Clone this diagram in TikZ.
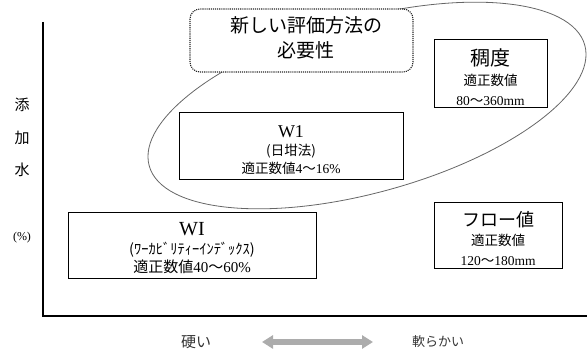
\documentclass[tikz,border=0pt]{standalone}
\usepackage{fontspec}
\setmainfont{Liberation Serif}
\newfontfamily\cjk{Noto Sans CJK JP}
\usetikzlibrary{arrows.meta}
\newcommand\fsz[1]{\fontsize{#1}{#1}\selectfont}
\begin{document}
\begin{tikzpicture}[x=1pt,y=-1pt,
  box/.style={draw=black, line width=0.9pt, fill=white, inner sep=0pt},
  txt/.style={align=center, inner sep=0pt},
  axis/.style={line width=1.8pt, black},
  lbl/.style={inner sep=0pt, font=\cjk},
]
\useasboundingbox (0,0) rectangle (587,352);
% axes
\coordinate (ytop) at (43,22);
\coordinate (o) at (43,316);
\coordinate (xend) at (587,316);
\draw[axis] (ytop) -- (o) -- (xend);
% ellipse
\draw[black!60, line width=0.8pt, rotate around={15.5:(367,105.5)}] (367,105.5) ellipse [x radius=226, y radius=87];
% rounded box
\node[draw=black!85, densely dotted, line width=1.1pt, rounded corners=10pt, fill=white,
      minimum width=223pt, minimum height=63pt, inner sep=0pt] (need) at (301.5,40.5) {};
\node[txt, font=\cjk\fontsize{19}{25}\selectfont] (needt) at (306,37.5) {新しい評価方法の\\必要性};
% W1 box
\node[box, minimum width=224pt, minimum height=67pt] (w1) at (291,145.5) {};
\node[txt, font=\fontsize{13.5}{18}\selectfont] (w1t) at (291,150) {{\fontsize{18}{18}\selectfont W1}\\{\cjk (日坩法)}\\{\cjk 適正数値}4{\cjk 〜}16\%};
% consistency box
\node[box, minimum width=113pt, minimum height=68pt] (cons) at (490.5,73) {};
\node[txt, font=\fontsize{13.5}{20}\selectfont] (const) at (490.5,77.5) {{\cjk\fontsize{20}{20}\selectfont 稠度}\\{\cjk 適正数値}\\80{\cjk 〜}360mm};
% WI box
\node[box, minimum width=248pt, minimum height=66pt] (wi) at (192,245) {};
\node[txt, font=\fontsize{15}{18.5}\selectfont] (wit) at (192,248.5) {{\fontsize{20}{19}\selectfont WI}\\{\cjk\fontsize{14.5}{14.5}\selectfont (ﾜｰｶﾋﾞﾘﾃｨｰｲﾝﾃﾞｯｸｽ)}\\{\cjk 適正数値}40{\cjk 〜}60\%};
% flow box
\node[box, minimum width=128pt, minimum height=66pt] (flow) at (498,235) {};
\node[txt, font=\fontsize{13.5}{19.5}\selectfont] (flowt) at (498,238.5) {{\cjk\fontsize{18}{18}\selectfont フロー値}\\{\cjk 適正数値}\\120{\cjk 〜}180mm};
% y labels
\node[lbl, font=\cjk\fsz{15}] (ya) at (22,105) {添};
\node[lbl, font=\cjk\fsz{15}] (yb) at (22,138) {加};
\node[lbl, font=\cjk\fsz{15}] (yc) at (22,170) {水};
\node[lbl, font=\fsz{12}] (yp) at (22,238) {(\%)};
% bottom
\node[lbl, font=\cjk\fsz{15}, text=black!80] (hard) at (196,342) {硬い};
\node[lbl, font=\cjk\fsz{13}, text=black!80] (soft) at (438,342) {軟らかい};
\coordinate (al) at (262,342);
\coordinate (ar) at (373,342);
\draw[gray!65, line width=6pt, {Triangle[width=13pt,length=11pt]}-{Triangle[width=13pt,length=11pt]}] (al) -- (ar);
\end{tikzpicture}
\end{document}
